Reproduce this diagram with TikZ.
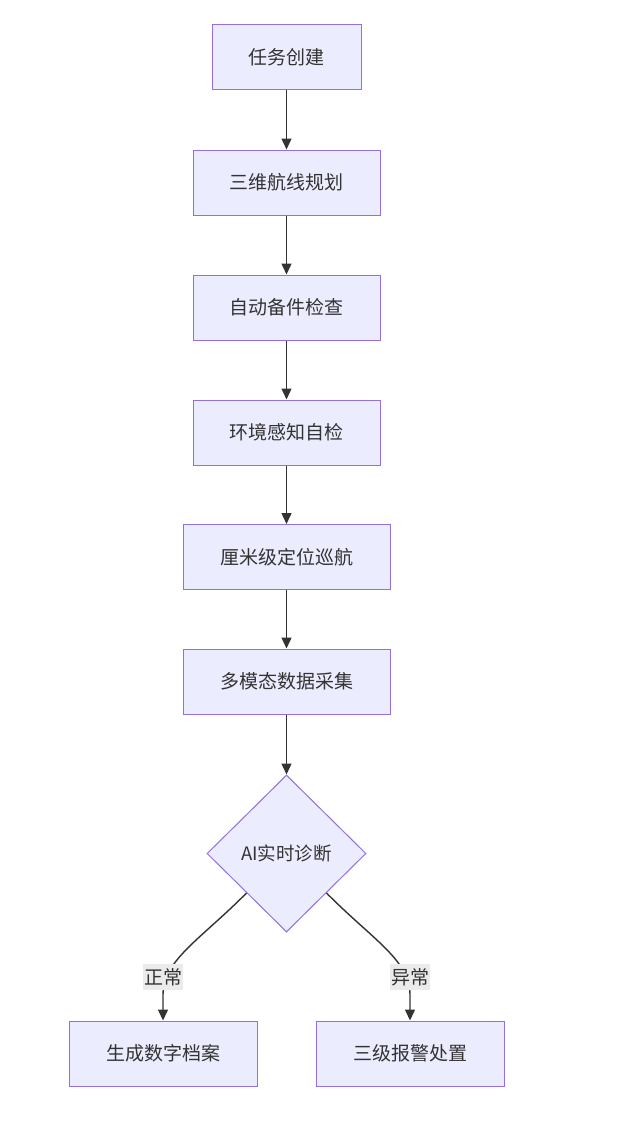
\documentclass[tikz,border=0pt]{standalone}
\usepackage{fontspec}
\setmainfont{Noto Sans CJK SC}
\usetikzlibrary{arrows.meta,shapes.geometric}
\definecolor{nodefill}{HTML}{ECECFF}
\definecolor{nodeline}{HTML}{9370DB}
\definecolor{ink}{HTML}{333333}
\definecolor{lblbg}{HTML}{EBEBEB}
\begin{document}
\begin{tikzpicture}[x=1pt,y=-1pt,
  box/.style={draw=nodeline,fill=nodefill,line width=1pt,minimum height=65pt,inner sep=0pt,text=ink,font=\fontsize{19}{23}\selectfont},
  dec/.style={diamond,draw=nodeline,fill=nodefill,line width=1pt,minimum width=159pt,minimum height=157pt,inner sep=0pt,text=ink,font=\fontsize{18.5}{23}\selectfont},
  edge/.style={draw=ink,line width=1.4pt,-{Triangle[length=11pt,width=10pt]}},
  lbl/.style={fill=lblbg,text=ink,inner xsep=1pt,inner ysep=4pt,font=\fontsize{19}{23}\selectfont}]
\useasboundingbox (0,0) rectangle (625,1121);
\fill[white] (0,0) rectangle (625,1121);
\node[box,minimum width=149pt] (a) at (286.5,57.5) {任务创建};
\node[box,minimum width=187pt] (b) at (286.5,182.5) {三维航线规划};
\node[box,minimum width=187pt] (c) at (286.5,307.5) {自动备件检查};
\node[box,minimum width=187pt] (d) at (286.5,432.5) {环境感知自检};
\node[box,minimum width=207pt] (e) at (286.5,557) {厘米级定位巡航};
\node[box,minimum width=207pt] (f) at (286.5,681.5) {多模态数据采集};
\node[dec] (g) at (286.5,853.5) {AI实时诊断};
\node[box,minimum width=188pt] (h) at (163,1053.5) {生成数字档案};
\node[box,minimum width=188pt] (i) at (410,1053.5) {三级报警处置};
\draw[edge] (a) -- (b);
\draw[edge] (b) -- (c);
\draw[edge] (c) -- (d);
\draw[edge] (d) -- (e);
\draw[edge] (e) -- (f);
\draw[edge] (f) -- (g);
\draw[edge] (g.south west) .. controls (200,940) and (163,960) .. (163,995) -- (h.north);
\draw[edge] (g.south east) .. controls (373,940) and (410,960) .. (410,995) -- (i.north);
\node[lbl] (l1) at (163,977) {正常};
\node[lbl] (l2) at (410,977) {异常};
\end{tikzpicture}
\end{document}
